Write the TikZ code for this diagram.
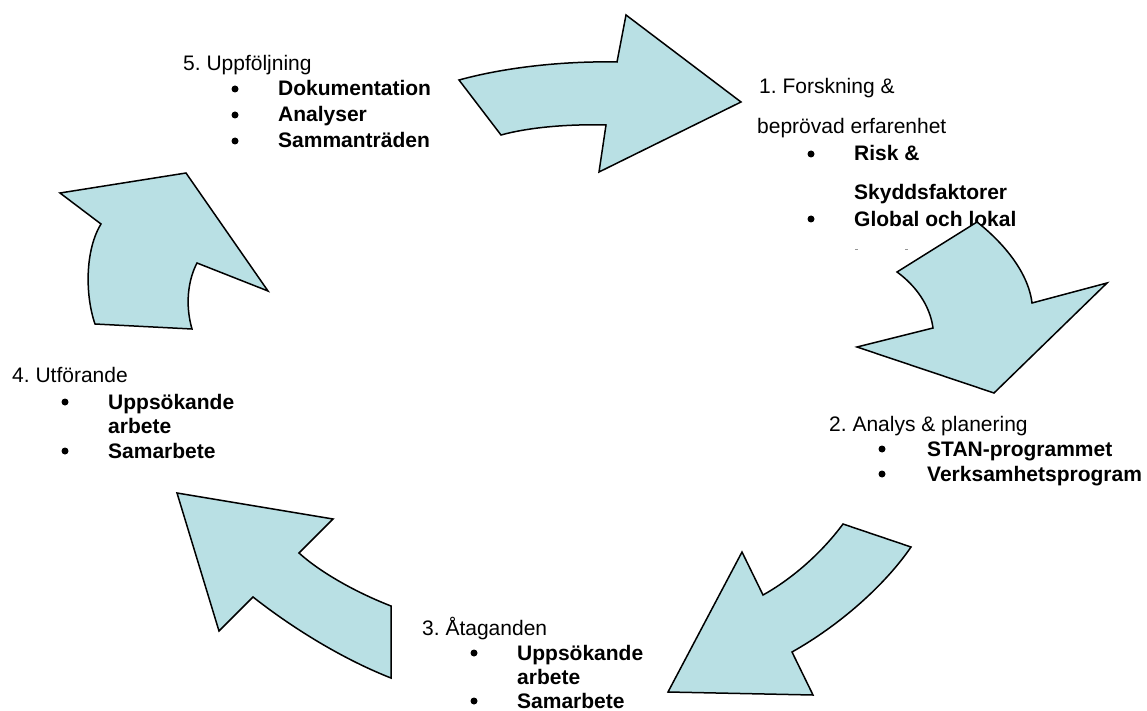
\documentclass[tikz,border=0pt]{standalone}
\usepackage{fontspec}
\setmainfont{Liberation Sans}
\frenchspacing
\definecolor{arrowfill}{RGB}{185,224,228}
\definecolor{dashgray}{RGB}{150,150,150}
\begin{document}
\begin{tikzpicture}[x=1pt,y=-1pt,
  blockarrow/.style={fill=arrowfill,draw=black,line width=1.5pt,line join=miter},
  title/.style={anchor=base west,inner sep=0pt,font=\fontsize{21}{25}\selectfont},
  item/.style={anchor=base west,inner sep=0pt,font=\fontsize{21}{25}\selectfont\bfseries},
  dot/.style={circle,fill=black,inner sep=0pt,minimum size=7pt}]
\useasboundingbox (0,0) rectangle (1147,711);

% ---- 5. Uppfoljning
\node[title] (t5) at (183,71) {5. Uppföljning};
\node[dot] (b51) at (235,89) {};
\node[item] (i51) at (278,96) {Dokumentation};
\node[dot] (b52) at (235,115) {};
\node[item] (i52) at (278,122) {Analyser};
\node[dot] (b53) at (235,141) {};
\node[item] (i53) at (278,148) {Sammanträden};

% ---- 1. Forskning
\node[title] (t1a) at (759,94) {1. Forskning \&};
\node[title] (t1b) at (757,134) {beprövad erfarenhet};
\node[dot] (b11) at (811,154) {};
\node[item] (i11) at (854,161) {Risk \&};
\node[item] (i12) at (854,200) {Skyddsfaktorer};
\node[dot] (b12) at (811,219) {};
\node[item] (i13) at (854,226) {Global och lokal};
\draw[dashgray,line width=1pt] (855,249) -- (858,249);
\draw[dashgray,line width=1pt] (905,249) -- (908,249);

% ---- 2. Analys
\node[title] (t2) at (829,431) {2. Analys \& planering};
\node[dot] (b21) at (882,449) {};
\node[item] (i21) at (927,456) {STAN-programmet};
\node[dot] (b22) at (882,474) {};
\node[item] (i22) at (927,481) {Verksamhetsprogram};

% ---- 3. Ataganden
\node[title] (t3) at (422,635) {3. Åtaganden};
\node[dot] (b31) at (474,653) {};
\node[item] (i31) at (517,660) {Uppsökande};
\node[item] (i32) at (517,684) {arbete};
\node[dot] (b32) at (474,701) {};
\node[item] (i33) at (517,708) {Samarbete};

% ---- 4. Utforande
\node[title] (t4) at (12,382) {4. Utförande};
\node[dot] (b41) at (65,402) {};
\node[item] (i41) at (108,409) {Uppsökande};
\node[item] (i42) at (108,433) {arbete};
\node[dot] (b42) at (65,451) {};
\node[item] (i43) at (108,458) {Samarbete};

% ---- block arrows
% arrow 1 (top, to the right)
\draw[blockarrow] (459,80) .. controls (510,66) and (570,61) .. (617,62)
  -- (626,15) -- (741,102) -- (599,172) -- (606,125)
  .. controls (570,124) and (530,127) .. (501,135) -- cycle;
% arrow 2 (right, downwards)
\draw[blockarrow] (897,272) -- (977,222)
  .. controls (1000,240) and (1028,270) .. (1032,303)
  -- (1107,283) -- (994,393) -- (857,347) -- (933,328)
  .. controls (930,305) and (915,285) .. (897,272) -- cycle;
% arrow 3 (bottom right, down-left)
\draw[blockarrow] (843,524) -- (911,547)
  .. controls (885,585) and (840,625) .. (792,652)
  -- (813,695) -- (668,692) -- (742,552) -- (763,595)
  .. controls (790,580) and (820,555) .. (843,524) -- cycle;
% arrow 4 (bottom left, up-left)
\draw[blockarrow] (177,493) -- (333,519) -- (299,553)
  .. controls (320,572) and (355,592) .. (391,606)
  -- (391,678)
  .. controls (345,660) and (295,630) .. (253,597)
  -- (219,631) -- cycle;
% arrow 5 (left, up-right)
\draw[blockarrow] (95,324) .. controls (85,295) and (85,250) .. (101,224)
  -- (60,193) -- (186,173) -- (268,291) -- (197,263)
  .. controls (188,280) and (185,305) .. (192,329) -- cycle;
\end{tikzpicture}
\end{document}
